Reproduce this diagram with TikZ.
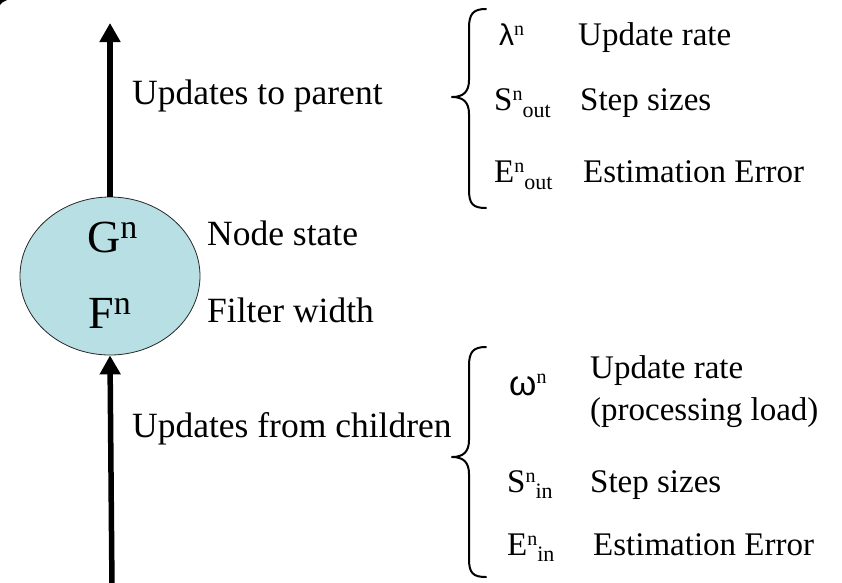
\documentclass[tikz,border=0pt]{standalone}
\usepackage{fontspec}
\setmainfont{Liberation Serif}
\newfontfamily\symsans{Liberation Sans}
\usetikzlibrary{arrows.meta,shapes.geometric}
\definecolor{nodefill}{RGB}{184,224,228}
\tikzset{
  lbl/.style={anchor=base west, inner sep=0pt, font=\fontsize{35.5}{40}\selectfont},
  item/.style={anchor=base west, inner sep=0pt, font=\fontsize{33}{38}\selectfont},
  flow/.style={line width=5.5pt, -{Triangle[length=19pt,width=20pt]}},
  bracket/.style={line width=2pt, line cap=round, line join=round},
  statenode/.style={ellipse, draw=black!85, line width=0.8pt, fill=nodefill,
    minimum width=180pt, minimum height=158pt, inner sep=0pt},
}
% superscript and subscript pieces
\newcommand{\up}[3]{\raisebox{#1}{\fontsize{#2}{#2}\selectfont #3}}
\begin{document}
\begin{tikzpicture}[x=1pt,y=-1pt]
  \useasboundingbox (0,0) rectangle (842,582);

  % small mark at the corner
  \fill (0,0) -- (7,0) .. controls (4,1) and (1,3) .. (0,5) -- cycle;

  % node and its flows
  \node[statenode] (state) at (110,276) {};
  \coordinate (parent) at (110,23);
  \coordinate (children) at (112,590);
  \draw[flow] (state.north) -- (parent);
  \draw[flow] (children) -- (state.south);

  \node[anchor=base west, inner sep=0pt, font=\fontsize{46}{50}\selectfont] (g) at (87,252) {G\up{14pt}{34}{n}};
  \node[anchor=base west, inner sep=0pt, font=\fontsize{46}{50}\selectfont] (f) at (88,328) {F\up{14pt}{34}{n}};

  \node[lbl] (toparent) at (132,104) {Updates to parent};
  \node[lbl] (nstate) at (207,245) {Node state};
  \node[lbl] (fwidth) at (207,322) {Filter width};
  \node[lbl] (fromchild) at (132,437) {Updates from children};

  % outgoing quantities
  \draw[bracket] (486,9) .. controls (473,9) and (469,14) .. (469,28)
    -- (469,80) .. controls (469,92) and (463,97) .. (452,97)
    .. controls (463,97) and (469,102) .. (469,114)
    -- (469,190) .. controls (469,204) and (473,208) .. (486,208);

  \node[item] (lam) at (499,45) {{\symsans\fontsize{30}{30}\selectfont λ}\up{10pt}{20}{n}};
  \node[item] (lamtxt) at (578,45) {Update rate};
  \node[item] (sout) at (494,110) {S\up{10pt}{20}{n}\up{-7pt}{22}{out}};
  \node[item] (souttxt) at (580,110) {Step sizes};
  \node[item] (eout) at (494,182) {E\up{10pt}{20}{n}\up{-7pt}{22}{out}};
  \node[item] (eouttxt) at (583,182) {Estimation Error};

  % incoming quantities
  \draw[bracket] (486,347) .. controls (473,347) and (469,352) .. (469,366)
    -- (469,440) .. controls (469,452) and (463,457) .. (452,457)
    .. controls (463,457) and (469,462) .. (469,474)
    -- (469,559) .. controls (469,573) and (473,577) .. (486,577);

  \node[item] (om) at (509,395) {{\symsans\fontsize{35}{35}\selectfont ω}\up{12pt}{20}{n}};
  \node[item] (omtxt1) at (590,378) {Update rate};
  \node[item] (omtxt2) at (590,420) {(processing load)};
  \node[item] (sin) at (507,492) {S\up{10pt}{20}{n}\up{-6pt}{22}{in}};
  \node[item] (sintxt) at (590,492) {Step sizes};
  \node[item] (ein) at (507,555) {E\up{10pt}{20}{n}\up{-6pt}{22}{in}};
  \node[item] (eintxt) at (593,555) {Estimation Error};
\end{tikzpicture}
\end{document}
